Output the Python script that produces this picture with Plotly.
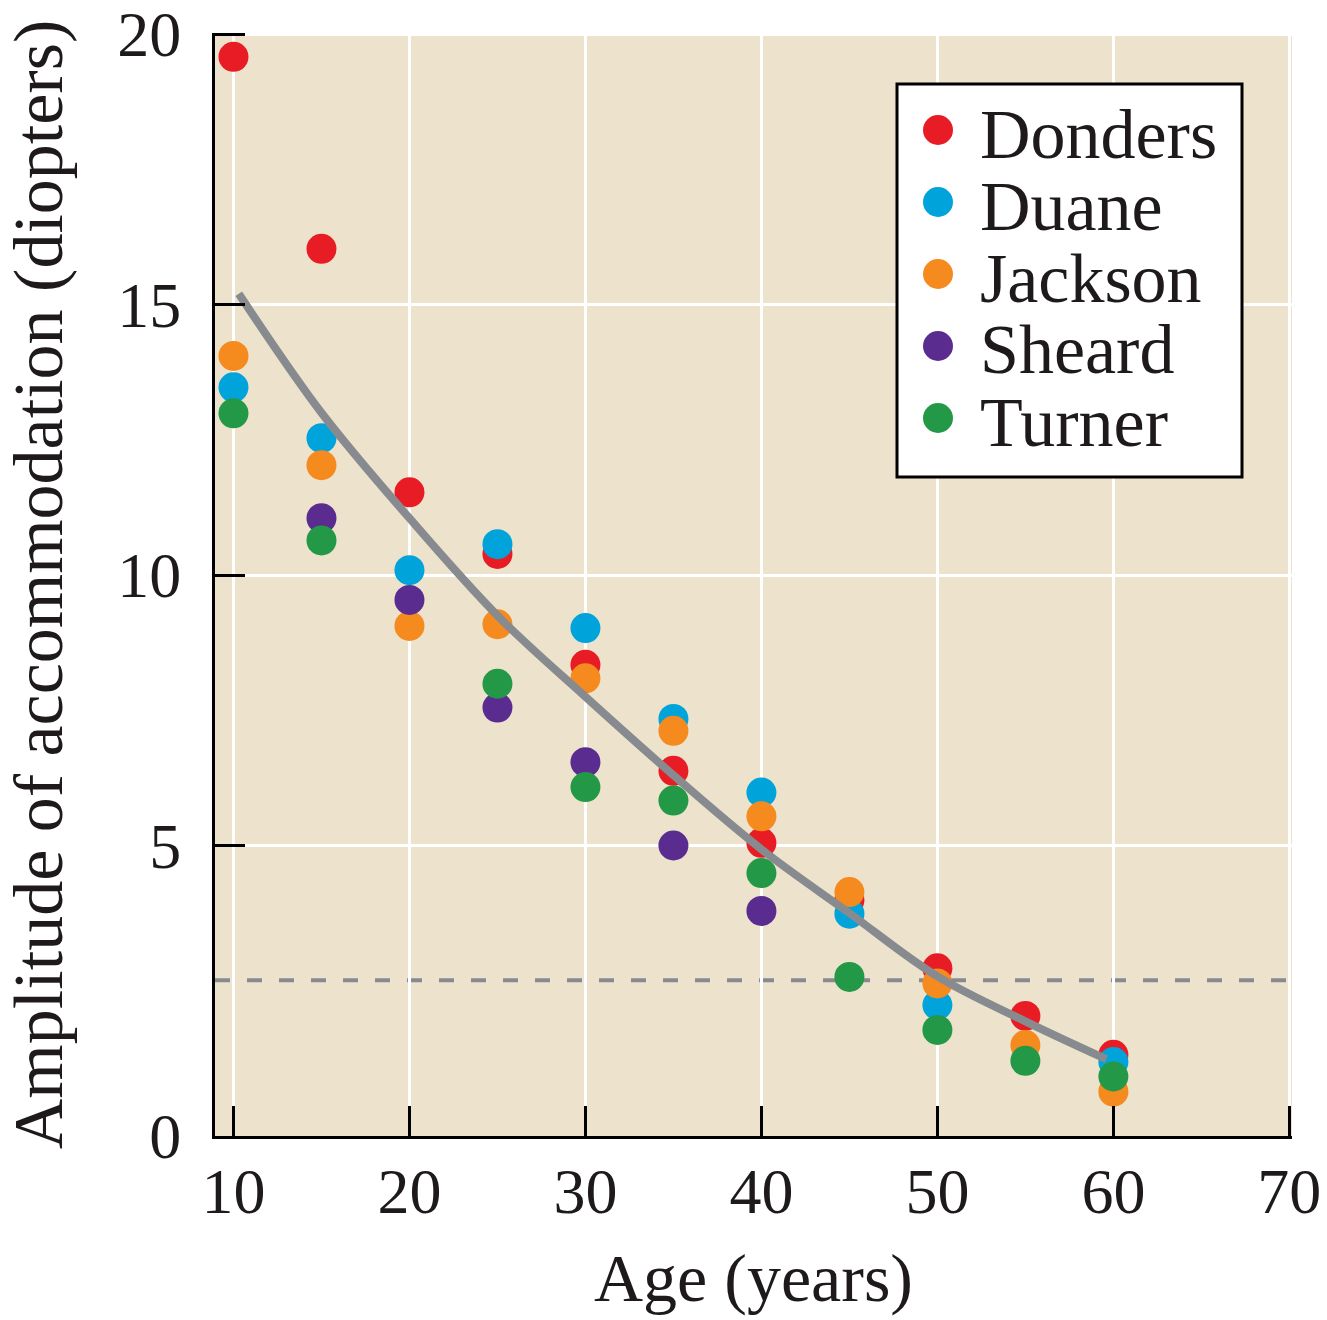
import plotly.graph_objects as go

# ---------------- data ----------------
series_names = ["Donders", "Duane", "Jackson", "Sheard", "Turner"]
series_colors = ["#e81c24", "#00a3da", "#f58a1f", "#5b2c8f", "#239846"]

donders_age = [10, 15, 20, 25, 30, 35, 40, 45, 50, 55, 60]
donders_amp = [19.58, 16.03, 11.53, 10.39, 8.34, 6.38, 5.05, 3.99, 2.73, 1.85, 1.13]

duane_age = [10, 15, 20, 25, 30, 35, 40, 45, 50, 60]
duane_amp = [13.47, 12.53, 10.09, 10.57, 9.02, 7.34, 5.98, 3.74, 2.05, 1.00]

jackson_age = [10, 15, 20, 25, 30, 35, 40, 45, 50, 55, 60]
jackson_amp = [14.05, 12.03, 9.06, 9.09, 8.09, 7.12, 5.54, 4.14, 2.45, 1.31, 0.45]

sheard_age = [15, 20, 25, 30, 35, 40]
sheard_amp = [11.05, 9.54, 7.55, 6.54, 5.00, 3.79]

turner_age = [10, 15, 25, 30, 35, 40, 45, 50, 55, 60]
turner_amp = [12.99, 10.64, 7.99, 6.08, 5.83, 4.49, 2.57, 1.59, 1.02, 0.73]

fit_age = [10.3, 15, 20, 25, 30, 35, 40, 45, 50, 55, 59.6]
fit_amp = [15.2, 13.0, 11.05, 9.25, 7.75, 6.3, 4.93, 3.75, 2.58, 1.75, 1.05]

threshold_amp = 2.51

x_ticks = [10, 20, 30, 40, 50, 60, 70]
y_ticks = [0, 5, 10, 15, 20]

x_title = "Age (years)"
y_title = "Amplitude of accommodation (diopters)"

# ---------------- styling ----------------
FONT = "Liberation Serif"
TXT = "#1e1a1b"
BG = "#ede3cc"
W, H = 1327, 1320
PL, PR, PT, PB = 215, 1292, 33, 1136
X_RANGE = [8.95, 70.15]
Y_RANGE = [-0.37, 20.02]

series_x = [donders_age, duane_age, jackson_age, sheard_age, turner_age]
series_y = [donders_amp, duane_amp, jackson_amp, sheard_amp, turner_amp]

fig = go.Figure()

for name, col, xs, ys in zip(series_names, series_colors, series_x, series_y):
    fig.add_trace(go.Scatter(
        x=xs, y=ys, mode="markers", name=name,
        marker=dict(color=col, size=30, line=dict(width=0)),
        showlegend=False,
    ))

fig.add_trace(go.Scatter(
    x=fit_age, y=fit_amp, mode="lines",
    line=dict(color="#878b8f", width=8, shape="spline", smoothing=1.0),
    showlegend=False,
))

fig.add_hline(y=threshold_amp, line=dict(color="#878b8f", width=4, dash="15px,17px"), layer="below")

# y tick positions: the "0" label sits on the axis baseline
y_tickvals = [Y_RANGE[0] if v == 0 else v for v in y_ticks]
y_ticktext = [str(v) for v in y_ticks]

fig.update_xaxes(
    range=X_RANGE, tickvals=x_ticks, ticktext=[str(v) for v in x_ticks],
    showgrid=True, gridcolor="white", gridwidth=3,
    showline=True, linecolor="black", linewidth=3,
    ticks="inside", ticklen=30, tickwidth=3, tickcolor="black",
    tickfont=dict(family=FONT, size=64, color=TXT),
    ticklabelstandoff=-3, ticklabeloverflow="allow",
    zeroline=False, automargin=False,
    title=dict(text=x_title, font=dict(family=FONT, size=68, color=TXT), standoff=28),
)
fig.update_yaxes(
    range=Y_RANGE, tickvals=y_tickvals, ticktext=y_ticktext,
    showgrid=True, gridcolor="white", gridwidth=3,
    showline=True, linecolor="black", linewidth=3,
    ticks="inside", ticklen=30, tickwidth=3, tickcolor="black",
    tickfont=dict(family=FONT, size=64, color=TXT),
    ticklabelstandoff=18, ticklabeloverflow="allow",
    zeroline=False, automargin=False,
    title=dict(text=y_title, font=dict(family=FONT, size=70, color=TXT), standoff=35),
)

# ---------------- custom legend ----------------
def px(xp):
    return (xp - PL) / (PR - PL)

def py(yp):
    return (PB - yp) / (PB - PT)

LEG_L, LEG_R, LEG_T, LEG_B = 897, 1242, 84, 477
ROW0, ROW_STEP = 130, 72
MARK_X, TEXT_X = 938, 978

shapes = [dict(type="rect", xref="paper", yref="paper",
               x0=px(LEG_L), x1=px(LEG_R), y0=py(LEG_B), y1=py(LEG_T),
               fillcolor="white", line=dict(color="black", width=3), layer="above")]
annotations = []
for i, (name, col) in enumerate(zip(series_names, series_colors)):
    ry = ROW0 + i * ROW_STEP
    shapes.append(dict(type="circle", xref="paper", yref="paper",
                       xsizemode="pixel", ysizemode="pixel",
                       xanchor=px(MARK_X), yanchor=py(ry),
                       x0=-15, x1=15, y0=-15, y1=15,
                       fillcolor=col, line=dict(width=0), layer="above"))
    annotations.append(dict(xref="paper", yref="paper", x=px(TEXT_X), y=py(ry + 4),
                            text=name, showarrow=False, xanchor="left", yanchor="middle",
                            font=dict(family=FONT, size=70, color=TXT)))

fig.update_layout(
    width=W, height=H,
    margin=dict(l=PL, r=W - PR, t=PT, b=H - PB, pad=0, autoexpand=False),
    paper_bgcolor="white", plot_bgcolor=BG,
    shapes=list(fig.layout.shapes) + shapes,
    annotations=annotations,
    showlegend=False,
)

fig.write_html("out.html", config={"displayModeBar": False},
               post_script="document.body.style.margin='0';")
